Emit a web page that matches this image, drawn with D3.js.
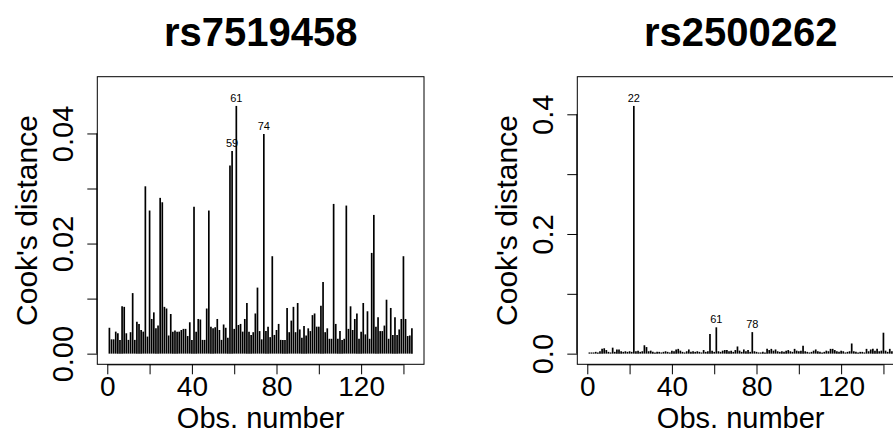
<!DOCTYPE html>
<html>
<head>
<meta charset="utf-8">
<script src="https://cdn.jsdelivr.net/npm/d3@7"></script>
<style>
  html, body { margin: 0; padding: 0; background: #fff; }
  svg { display: block; }
  text { font-family: "Liberation Sans", Arial, Helvetica, sans-serif; fill: #000; }
</style>
</head>
<body>
<svg id="chart" width="893" height="441"></svg>
<script>
// ---- data ----
const titles = ["rs7519458", "rs2500262"];

const cookA = [
  0.0047, 0.0026, 0.0026, 0.0040, 0.0037, 0.0025, 0.0086, 0.0085, 0.0037, 0.0025,
  0.0039, 0.0110, 0.0025, 0.0058, 0.0054, 0.0043, 0.0040, 0.0304, 0.0031, 0.0260,
  0.0063, 0.0075, 0.0046, 0.0051, 0.0283, 0.0275, 0.0085, 0.0082, 0.0033, 0.0072,
  0.0040, 0.0042, 0.0040, 0.0040, 0.0043, 0.0045, 0.0045, 0.0032, 0.0057, 0.0025,
  0.0267, 0.0040, 0.0063, 0.0062, 0.0025, 0.0025, 0.0082, 0.0260, 0.0049, 0.0046,
  0.0048, 0.0063, 0.0043, 0.0025, 0.0053, 0.0047, 0.0029, 0.0342, 0.0368, 0.0045,
  0.0450, 0.0052, 0.0054, 0.0040, 0.0063, 0.0092, 0.0040, 0.0034, 0.0039, 0.0073,
  0.0120, 0.0041, 0.0026, 0.0399, 0.0041, 0.0049, 0.0030, 0.0177, 0.0034, 0.0043,
  0.0054, 0.0025, 0.0025, 0.0025, 0.0083, 0.0039, 0.0060, 0.0085, 0.0039, 0.0092,
  0.0044, 0.0029, 0.0050, 0.0033, 0.0046, 0.0041, 0.0070, 0.0073, 0.0049, 0.0049,
  0.0087, 0.0130, 0.0039, 0.0046, 0.0027, 0.0027, 0.0272, 0.0054, 0.0027, 0.0041,
  0.0025, 0.0027, 0.0269, 0.0045, 0.0086, 0.0043, 0.0063, 0.0073, 0.0027, 0.0040,
  0.0092, 0.0035, 0.0077, 0.0027, 0.0183, 0.0252, 0.0049, 0.0066, 0.0041, 0.0041,
  0.0051, 0.0098, 0.0027, 0.0083, 0.0034, 0.0066, 0.0034, 0.0044, 0.0063, 0.0177,
  0.0063, 0.0032, 0.0033, 0.0046
];

const cookB = [
  0.002, 0.002, 0.002, 0.003, 0.002, 0.004, 0.008, 0.009, 0.006, 0.003,
  0.002, 0.010, 0.003, 0.007, 0.007, 0.004, 0.003, 0.004, 0.003, 0.004,
  0.003, 0.414, 0.004, 0.005, 0.003, 0.004, 0.014, 0.011, 0.004, 0.005,
  0.003, 0.002, 0.003, 0.003, 0.002, 0.003, 0.004, 0.003, 0.002, 0.005,
  0.004, 0.007, 0.008, 0.005, 0.003, 0.002, 0.004, 0.007, 0.003, 0.004,
  0.003, 0.004, 0.003, 0.002, 0.006, 0.003, 0.004, 0.033, 0.005, 0.003,
  0.044, 0.004, 0.003, 0.005, 0.006, 0.006, 0.004, 0.005, 0.003, 0.006,
  0.012, 0.005, 0.003, 0.007, 0.004, 0.006, 0.003, 0.036, 0.004, 0.003,
  0.002, 0.002, 0.003, 0.002, 0.008, 0.006, 0.008, 0.005, 0.007, 0.004,
  0.003, 0.004, 0.003, 0.005, 0.006, 0.004, 0.003, 0.008, 0.005, 0.004,
  0.005, 0.013, 0.004, 0.003, 0.002, 0.003, 0.005, 0.007, 0.004, 0.003,
  0.002, 0.003, 0.005, 0.004, 0.008, 0.008, 0.006, 0.004, 0.003, 0.005,
  0.004, 0.002, 0.003, 0.004, 0.017, 0.004, 0.003, 0.002, 0.003, 0.003,
  0.002, 0.008, 0.004, 0.007, 0.008, 0.005, 0.008, 0.004, 0.005, 0.035,
  0.005, 0.003, 0.008, 0.004
];

const xTicks = [0, 20, 40, 60, 80, 100, 120, 140];
const xTickLabels = ["0", "", "40", "", "80", "", "120", ""];
const yTicksA = [0, 0.01, 0.02, 0.03, 0.04];
const yTickLabelsA = ["0.00", "", "0.02", "", "0.04"];
const yTicksB = [0, 0.1, 0.2, 0.3, 0.4];
const yTickLabelsB = ["0.0", "", "0.2", "", "0.4"];

const xLabel = "Obs. number";
const yLabel = "Cook's distance";

// ---- layout ----
const svg = d3.select("#chart");
const plotL = 97.3, plotR = 424, plotT = 76.7, plotB = 364.3;
const panelOffset = 480;

function drawPanel(idx, values, yTicks, yTickLabels) {
  const g = svg.append("g").attr("transform", `translate(${idx * panelOffset},0)`);
  const n = values.length;
  const x = d3.scaleLinear()
    .domain([1 - 0.04 * (n - 1), n + 0.04 * (n - 1)])
    .range([plotL, plotR]);
  const ymx = d3.max(values) * 1.075;
  const y = d3.scaleLinear()
    .domain([-0.04 * ymx, 1.04 * ymx])
    .range([plotB, plotT]);

  const data = values.map((v, i) => ({ i: i + 1, v }));

  // bars (type = "h")
  g.append("g").selectAll("line.bar").data(data).join("line")
    .attr("class", "bar")
    .attr("x1", d => x(d.i)).attr("x2", d => x(d.i))
    .attr("y1", y(0)).attr("y2", d => y(d.v))
    .attr("stroke", "#000").attr("stroke-width", 1.7);

  // box
  g.append("rect")
    .attr("x", plotL).attr("y", plotT)
    .attr("width", plotR - plotL).attr("height", plotB - plotT)
    .attr("fill", "none").attr("stroke", "#000").attr("stroke-width", 1);

  // x axis
  const xAxis = d3.axisBottom(x).tickValues(xTicks)
    .tickFormat((d, i) => xTickLabels[i]).tickSizeOuter(0).tickSize(10).tickPadding(2);
  const xa = g.append("g").attr("transform", `translate(0,${plotB})`).call(xAxis);
  xa.select(".domain").remove();
  xa.append("line").attr("x1", x(xTicks[0])).attr("x2", x(xTicks[xTicks.length - 1]))
    .attr("y1", 0.5).attr("y2", 0.5).attr("stroke", "#000");
  xa.selectAll(".tick line").attr("stroke", "#000");
  xa.selectAll(".tick text").attr("font-size", 28).attr("fill", "#000")
    .attr("font-family", "Liberation Sans, Arial, sans-serif");

  // y axis
  const yAxis = d3.axisLeft(y).tickValues(yTicks)
    .tickFormat((d, i) => yTickLabels[i]).tickSizeOuter(0).tickSize(10);
  const ya = g.append("g").attr("transform", `translate(${plotL},0)`).call(yAxis);
  ya.select(".domain").remove();
  ya.append("line").attr("y1", y(yTicks[0])).attr("y2", y(yTicks[yTicks.length - 1]))
    .attr("x1", -0.5).attr("x2", -0.5).attr("stroke", "#000");
  ya.selectAll(".tick line").attr("stroke", "#000");
  ya.selectAll(".tick text")
    .attr("font-size", 29).attr("fill", "#000")
    .attr("font-family", "Liberation Sans, Arial, sans-serif")
    .attr("x", null).attr("dy", null)
    .attr("text-anchor", "middle")
    .attr("transform", "translate(-24,0) rotate(-90)");

  // labels of the three largest
  const top3 = data.slice().sort((a, b) => b.v - a.v).slice(0, 3);
  g.append("g").selectAll("text").data(top3).join("text")
    .attr("x", d => x(d.i)).attr("y", d => y(d.v) - 4)
    .attr("text-anchor", "middle").attr("font-size", 11)
    .text(d => d.i);

  // titles
  const cx = (plotL + plotR) / 2;
  g.append("text").attr("x", cx).attr("y", 46)
    .attr("text-anchor", "middle").attr("font-size", 40).attr("font-weight", "bold")
    .text(titles[idx]);
  g.append("text").attr("x", cx).attr("y", 428)
    .attr("text-anchor", "middle").attr("font-size", 29)
    .text(xLabel);
  g.append("text")
    .attr("transform", `translate(37,${(plotT + plotB) / 2}) rotate(-90)`)
    .attr("text-anchor", "middle").attr("font-size", 30)
    .text(yLabel);
}

drawPanel(0, cookA, yTicksA, yTickLabelsA);
drawPanel(1, cookB, yTicksB, yTickLabelsB);
</script>
</body>
</html>
